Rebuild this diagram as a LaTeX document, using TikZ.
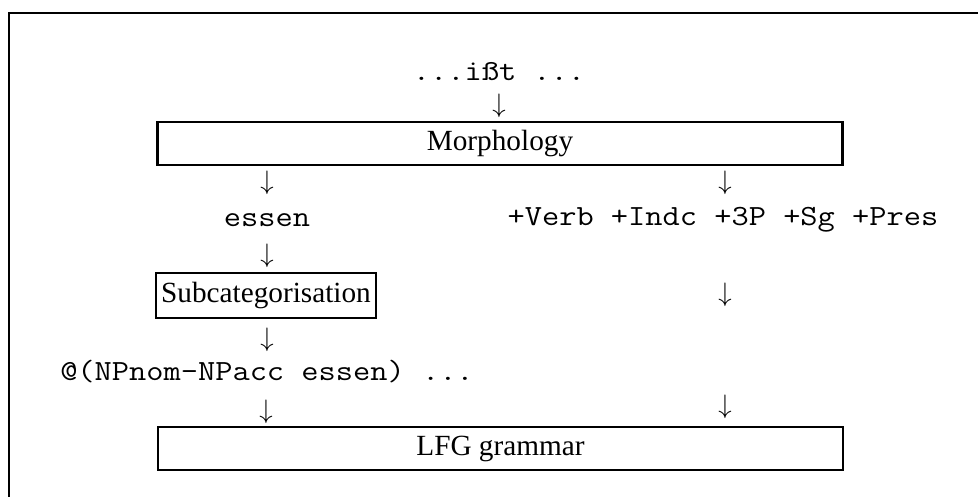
\documentclass[tikz,border=0pt]{standalone}
\usepackage{fontspec}
\setmainfont{Liberation Serif}
\newfontfamily\codefont{Latin Modern Mono}[FakeStretch=1.143]

\begin{document}
\begin{tikzpicture}[x=0.41pt,y=-0.41pt,line width=1pt,
every node/.style={font=\fontsize{12pt}{14pt}\selectfont, inner sep=0pt},
code/.style={font=\fontsize{12pt}{14pt}\selectfont\codefont},
down/.style={font=\fontsize{11pt}{13pt}\selectfont},
box/.style={draw, minimum height=17.6pt},
wide/.style={box, minimum width=281pt}]
\useasboundingbox (0,0) rectangle (978,497);
\draw (978,13) -| (9,497);
% top
\node[code] (ist) at (499,72) {...ißt ...};
\node[down] (d1) at (499,106) {$\downarrow$};
\node[wide] (morph) at (500,143.5) {Morphology};
% two columns
\node[down] (d2) at (267,183) {$\downarrow$};
\node[down] (d3) at (725,183) {$\downarrow$};
\node[code] (essen) at (267,220) {essen};
\node[code] (tags) at (723,220) {+Verb +Indc +3P +Sg +Pres};
\node[down] (d4) at (267,256) {$\downarrow$};
\node[box, inner xsep=2pt, minimum height=18.5pt] (subcat) at (266,295.5) {Subcategorisation};
\node[down] (d5) at (725,295) {$\downarrow$};
\node[down] (d6) at (267,340) {$\downarrow$};
\node[code] (templ) at (267,372) {@(NPnom-NPacc essen) ...};
\node[down] (d7) at (266,412) {$\downarrow$};
\node[down] (d8) at (725,407) {$\downarrow$};
% bottom
\node[wide] (lfg) at (500.5,448.5) {LFG grammar};
\end{tikzpicture}
\end{document}
